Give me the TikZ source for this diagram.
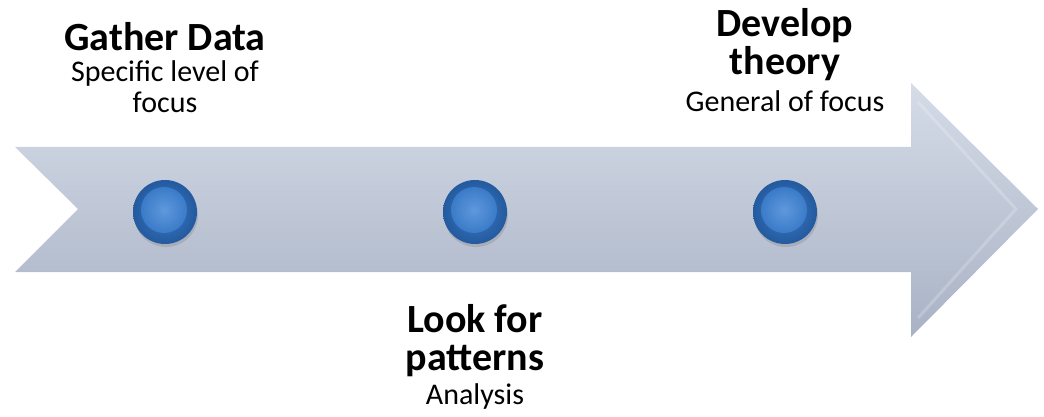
\documentclass[tikz,border=0pt]{standalone}
\usepackage{fontspec}
\setmainfont{Carlito}
\usetikzlibrary{positioning, shadows, calc}
\definecolor{arrowTop}{HTML}{D5DCE8}
\definecolor{arrowBottom}{HTML}{A9B2C5}
\definecolor{dotBlue}{HTML}{3A7BC8}
\definecolor{dotDark}{HTML}{245A9E}
\definecolor{dotLight}{HTML}{5F98DC}
\tikzset{
    % Timeline
    stepDot/.style={circle, minimum size=64pt, inner sep=0pt,
        inner color=dotBlue, outer color=dotDark,
        drop shadow={opacity=0.3, shadow xshift=1pt, shadow yshift=-3pt}},
    dotInner/.style={circle, minimum size=46pt, inner sep=0pt, inner color=dotLight, outer color=dotBlue},
    % Labels
    headText/.style={font=\bfseries\fontsize{40}{38}\selectfont, align=center, inner sep=0pt},
    subText/.style={font=\fontsize{30}{31}\selectfont, align=center, inner sep=0pt},
    node distance=9pt
}
\begin{document}
\begin{tikzpicture}[x=1pt, y=-1pt]
    \useasboundingbox (0,0) rectangle (1044,417);
    % Arrow
    \shade[top color=arrowTop, bottom color=arrowBottom]
        (15,147) -- (911,147) -- (911,83) -- (1038,209) -- (911,337) -- (911,272) -- (15,272) -- (78,209) -- cycle;
    \draw[white, opacity=0.2, line width=3pt] (918,102) -- (1016,209) -- (918,318);

    % Steps
    \node[stepDot] (dotGather) at (165,212) {};
    \node[stepDot] (dotLook) at (475,212) {};
    \node[stepDot] (dotTheory) at (785,212) {};
    \foreach \d in {dotGather, dotLook, dotTheory}
        \node[dotInner] at ($(\d)+(-1,-2)$) {};

    % Labels
    \node[headText] (gather) at (165,37) {Gather Data};
    \node[subText, below=of gather] (gatherSub) {Specific level of\\focus};
    \node[headText] (theory) at (785,45) {Develop\\theory};
    \node[subText, below=of theory] (theorySub) {General of focus};
    \node[headText] (look) at (475,341) {Look for\\patterns};
    \node[subText, below=6pt of look] (lookSub) {Analysis};
\end{tikzpicture}
\end{document}
